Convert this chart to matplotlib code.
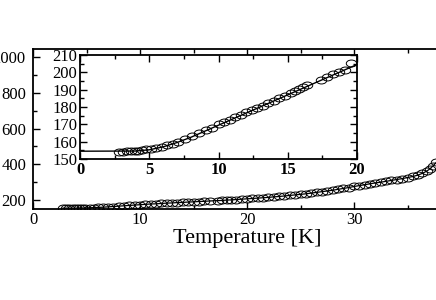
import numpy as np
import matplotlib
matplotlib.use('Agg')
import matplotlib.pyplot as plt
from matplotlib.path import Path
from matplotlib.transforms import Affine2D
from matplotlib.ticker import MultipleLocator

plt.rcParams['font.family'] = ['Liberation Serif', 'DejaVu Serif']

# =============================================================================
# DATA
# =============================================================================

main_T = [2.8, 3.1, 3.4, 3.7, 4.0, 4.3, 4.6, 4.9, 5.3, 5.7, 6.1, 6.5, 7.0, 7.5,
          8.0, 8.5, 9.0, 9.5, 10.0, 10.5, 11.0, 11.5, 12.0, 12.5, 13.0, 13.5,
          14.0, 14.5, 15.0, 15.5, 16.0, 16.5,
          17.3, 17.7, 18.1, 18.5, 19.0, 19.5, 20.0, 20.5, 21.0, 21.5, 22.0,
          22.5, 23.0, 23.5, 24.0, 24.5, 25.0, 25.5, 26.0, 26.5, 27.0, 27.5,
          28.0, 28.5, 29.0, 29.5, 30.0, 30.5, 31.0, 31.5, 32.0, 32.5, 33.0,
          33.5, 34.0, 34.5, 35.0, 35.5, 36.0, 36.4, 36.8, 37.1, 37.4, 37.7]
main_val = [155, 155, 155, 155, 155, 156, 156, 156, 157, 158, 159, 160, 162, 164,
            166, 168, 170, 172, 174, 176, 178, 179, 181, 183, 184, 186,
            187, 189, 190, 192, 193, 195,
            197, 198, 200, 201, 203, 205, 207, 209, 211, 213, 215,
            218, 220, 223, 226, 229, 232, 235, 239, 243, 247, 251,
            255, 260, 265, 270, 276, 281, 286, 291, 296, 300, 305,
            310, 315, 320, 326, 332, 340, 350, 362, 375, 392, 412]

inset_T = [2.8, 3.1, 3.4, 3.7, 4.0, 4.2, 4.5, 4.8, 5.1, 5.5, 5.9, 6.3, 6.7, 7.1,
           7.6, 8.1, 8.6, 9.1, 9.5, 10.0, 10.4, 10.8, 11.2, 11.6, 12.0, 12.4,
           12.8, 13.2, 13.6, 14.0, 14.4, 14.8, 15.2, 15.5, 15.8, 16.1, 16.4,
           17.4, 17.8, 18.3, 18.7, 19.1, 19.6]
inset_val = [154.2, 154.3, 154.4, 154.5, 154.7, 154.9, 155.2, 155.5, 155.8,
             156.3, 157.0, 157.8, 158.7, 159.8, 161.3, 163.0, 164.8, 166.6,
             168.0, 170.0, 171.3, 172.6, 174.0, 175.5, 177.0, 178.4, 179.6,
             180.8, 182.2, 183.6, 185.2, 186.6, 188.2, 189.4, 190.6, 191.6,
             192.6, 195.8, 197.2, 198.8, 200.2, 201.6, 205.5]

fit_T = [0, 4, 5, 6, 7, 8, 9, 10, 12, 14, 16, 18, 20]
fit_val = [154.5, 154.6, 155.3, 157.0, 159.5, 162.5, 166.0, 169.5, 176.5,
           183.5, 190.5, 197.5, 204.5]

main_xticks = [0, 10, 20, 30]

# =============================================================================
# PLOTTING
# =============================================================================

# slightly flattened open circle, as in the scanned figure
ellipse = Path.unit_circle().transformed(Affine2D().scale(1.5, 1.0))


def style_axes(ax, lw=1.3):
    for sp in ax.spines.values():
        sp.set_linewidth(lw)
    ax.tick_params(which='both', direction='in', top=True, right=True,
                   width=1.0, colors='black')
    ax.tick_params(which='major', length=5)
    ax.tick_params(which='minor', length=3)


fig = plt.figure(figsize=(4.36, 3.0), dpi=100)

ax = fig.add_axes([33 / 436, 0.3033, 0.9817, 0.5333])
ax.plot(main_T, main_val, '-', color='black', lw=0.9)
ax.plot(main_T, main_val, ls='none', marker=ellipse, ms=7.5, mfc='none',
        mec='black', mew=0.7)
ax.set_xlim(0, 40)
ax.set_ylim(150, 1045)
ax.set_xticks(main_xticks)
ax.xaxis.set_minor_locator(MultipleLocator(5))
ax.yaxis.set_major_locator(MultipleLocator(200))
ax.yaxis.set_minor_locator(MultipleLocator(100))
style_axes(ax)
ax.tick_params(labelsize=12)
ax.tick_params(axis='x', pad=2)
ax.tick_params(axis='y', pad=5)
ax.set_xlabel('Temperature [K]', fontsize=16, labelpad=1)

axin = fig.add_axes([80 / 436, 0.47, 277 / 436, 0.3467])
axin.plot(fit_T, fit_val, '-', color='black', lw=1.0)
axin.plot(inset_T, inset_val, ls='none', marker=ellipse, ms=7.5, mfc='none',
          mec='black', mew=0.7)
axin.set_xlim(0, 20)
axin.set_ylim(150, 210)
axin.xaxis.set_major_locator(MultipleLocator(5))
axin.xaxis.set_minor_locator(MultipleLocator(2.5))
axin.yaxis.set_major_locator(MultipleLocator(10))
axin.yaxis.set_minor_locator(MultipleLocator(5))
style_axes(axin)
axin.tick_params(labelsize=12, pad=2)
for lab in axin.get_xticklabels():
    lab.set_fontweight('bold')

fig.savefig('out.png', dpi=100)
